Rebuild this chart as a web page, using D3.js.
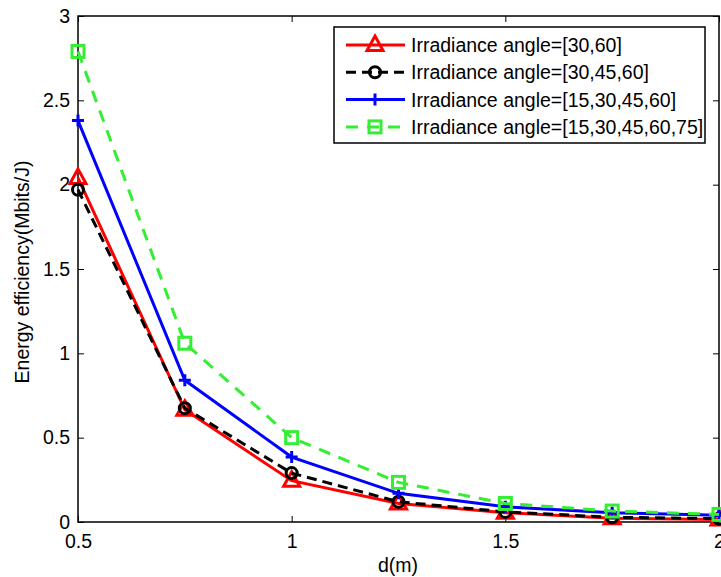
<!DOCTYPE html>
<html>
<head>
<meta charset="utf-8">
<script src="https://cdn.jsdelivr.net/npm/d3@7"></script>
<style>
  body { margin: 0; background: #fff; }
  text { font-family: "Liberation Sans", Arial, sans-serif; }
</style>
</head>
<body>
<div id="chart"></div>
<script>
  // data
  var distances = [0.5, 0.75, 1, 1.25, 1.5, 1.75, 2];
  var angles30_60 = [2.04, 0.665, 0.245, 0.11, 0.055, 0.022, 0.015];
  var angles30_45_60 = [1.97, 0.675, 0.29, 0.12, 0.06, 0.028, 0.02];
  var angles15_60 = [2.38, 0.84, 0.385, 0.17, 0.09, 0.055, 0.04];
  var angles15_75 = [2.79, 1.06, 0.5, 0.235, 0.11, 0.065, 0.045];
  var seriesNames = ["Irradiance angle=[30,60]", "Irradiance angle=[30,45,60]",
    "Irradiance angle=[15,30,45,60]", "Irradiance angle=[15,30,45,60,75]"];
  var xTicks = [0.5, 1, 1.5, 2];
  var yTicks = [0, 0.5, 1, 1.5, 2, 2.5, 3];

(function () {
  var width = 721,
    height = 577;
  var fontSize = "19.5px";

  var plotLeft = 78, plotRight = 719, plotTop = 16, plotBottom = 522;

  var svg = d3.select("#chart")
    .append("svg")
    .attr("width", width)
    .attr("height", height);

  var x = d3.scaleLinear().domain([0.5, 2]).range([plotLeft, plotRight]);
  var y = d3.scaleLinear().domain([0, 3]).range([plotBottom, plotTop]);

  var series = [
    { name: seriesNames[0], values: angles30_60, color: "#ff0000", dash: null, marker: "triangle" },
    { name: seriesNames[1], values: angles30_45_60, color: "#000000", dash: "10,6", marker: "circle" },
    { name: seriesNames[2], values: angles15_60, color: "#0000ff", dash: null, marker: "plus" },
    { name: seriesNames[3], values: angles15_75, color: "#33ee33", dash: "12,9", marker: "square" }
  ];

  // axes box with ticks inside (matlab style)
  svg.append("g")
    .attr("transform", "translate(0," + plotBottom + ")")
    .call(d3.axisBottom(x).tickValues(xTicks).tickSizeInner(-6).tickSizeOuter(0).tickPadding(12).tickFormat(d3.format("")))
    .call(function (g) { g.select(".domain").remove(); });
  svg.append("g")
    .attr("transform", "translate(" + plotLeft + ",0)")
    .call(d3.axisLeft(y).tickValues(yTicks).tickSizeInner(-6).tickSizeOuter(0).tickPadding(8).tickFormat(d3.format("")))
    .call(function (g) { g.select(".domain").remove(); });
  svg.append("g")
    .attr("transform", "translate(0," + plotTop + ")")
    .call(d3.axisTop(x).tickValues(xTicks).tickSizeInner(-6).tickSizeOuter(0).tickFormat(""))
    .call(function (g) { g.select(".domain").remove(); });
  svg.append("g")
    .attr("transform", "translate(" + plotRight + ",0)")
    .call(d3.axisRight(y).tickValues(yTicks).tickSizeInner(-6).tickSizeOuter(0).tickFormat(""))
    .call(function (g) { g.select(".domain").remove(); });

  svg.selectAll(".tick text")
    .attr("fill", "#000")
    .style("font-size", fontSize);
  svg.selectAll(".tick line").attr("stroke", "#000");

  svg.append("rect")
    .attr("x", plotLeft).attr("y", plotTop)
    .attr("width", plotRight - plotLeft).attr("height", plotBottom - plotTop)
    .attr("fill", "none").attr("stroke", "#000").attr("stroke-width", 1.5);

  var line = d3.line()
    .x(function (d, i) { return x(distances[i]); })
    .y(function (d) { return y(d); });

  function drawMarker(g, type, color, cx, cy) {
    if (type === "triangle") {
      g.append("path")
        .attr("d", "M" + cx + "," + (cy - 9) + "L" + (cx + 8) + "," + (cy + 5.5) + "L" + (cx - 8) + "," + (cy + 5.5) + "Z")
        .attr("fill", "none").attr("stroke", color).attr("stroke-width", 3);
    } else if (type === "circle") {
      g.append("circle")
        .attr("cx", cx).attr("cy", cy).attr("r", 5.5)
        .attr("fill", "none").attr("stroke", color).attr("stroke-width", 3);
    } else if (type === "plus") {
      g.append("path")
        .attr("d", "M" + (cx - 6) + "," + cy + "H" + (cx + 6) + "M" + cx + "," + (cy - 6) + "V" + (cy + 6))
        .attr("stroke", color).attr("stroke-width", 3);
    } else if (type === "square") {
      g.append("rect")
        .attr("x", cx - 6).attr("y", cy - 6).attr("width", 12).attr("height", 12)
        .attr("fill", "none").attr("stroke", color).attr("stroke-width", 3);
    }
  }

  series.forEach(function (s) {
    var g = svg.append("g");
    g.append("path")
      .datum(s.values)
      .attr("d", line)
      .attr("fill", "none")
      .attr("stroke", s.color)
      .attr("stroke-width", 3)
      .attr("stroke-dasharray", s.dash);
    s.values.forEach(function (v, i) {
      drawMarker(g, s.marker, s.color, x(distances[i]), y(v));
    });
  });

  // axis titles
  svg.append("text")
    .attr("x", 398).attr("y", 572)
    .attr("text-anchor", "middle")
    .style("font-size", fontSize)
    .text("d(m)");
  svg.append("text")
    .attr("transform", "translate(29,272) rotate(-90)")
    .attr("text-anchor", "middle")
    .style("font-size", fontSize)
    .text("Energy efficiency(Mbits/J)");

  // legend
  var legend = svg.append("g");
  legend.append("rect")
    .attr("x", 334).attr("y", 27).attr("width", 371).attr("height", 116)
    .attr("fill", "#fff").attr("stroke", "#000").attr("stroke-width", 1.5);
  series.forEach(function (s, i) {
    var ly = 45 + i * 27.3;
    legend.append("line")
      .attr("x1", 346).attr("x2", 405).attr("y1", ly).attr("y2", ly)
      .attr("stroke", s.color).attr("stroke-width", 3)
      .attr("stroke-dasharray", s.dash);
    drawMarker(legend, s.marker, s.color, 375, ly);
    legend.append("text")
      .attr("x", 411).attr("y", ly + 7)
      .style("font-size", fontSize)
      .text(s.name);
  });
})();
</script>
</body>
</html>
